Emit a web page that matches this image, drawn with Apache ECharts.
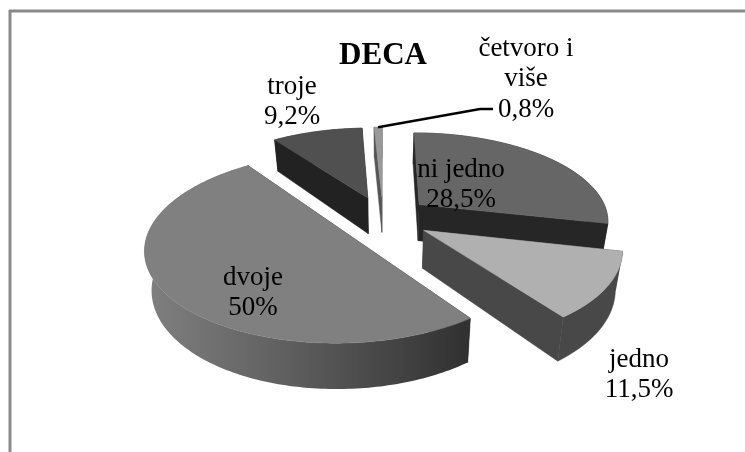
<!DOCTYPE html>
<html>
<head>
<meta charset="utf-8">
<style>html,body{margin:0;padding:0;background:#fff}#chart{width:745px;height:452px}</style>
<script src="https://cdn.jsdelivr.net/npm/echarts@6/dist/echarts.min.js"></script>
</head>
<body>
<div id="chart"></div>
<script>
var categories = ['ni jedno', 'jedno', 'dvoje', 'troje', 'četvoro i\nviše'];
var shares = [28.5, 11.5, 50, 9.2, 0.8];
var chartTitle = 'DECA';

// look of each slice, same order as categories
var topColors = ['#666666', '#b0b0b0', '#808080', '#505050', '#999999'];
var wallColors = ['#262626', '#484848', null, '#222222', '#555555'];
var drawOrder = [4, 3, 0, 2, 1]; // back to front, painted with z2
var labelSpots = [[461, 185], [639, 375], [253, 293], [292, 102], [526, 79]];

// tilted view of the pie
var view = {cx: 383, cy: 218, r: 190, tilt: 0.463, persp: 0.169, depth: 37, squeeze: 0.97, explode: 0.25};

function project(u, v, low) {
    var s = 1 / (1 - view.persp * v);
    return [
        view.cx + view.r * u * s * (low ? view.squeeze : 1),
        view.cy + view.r * view.tilt * v * s + (low ? view.depth * s : 0)
    ];
}

function rimPoint(origin, deg, low) {
    var a = deg * Math.PI / 180;
    return project(origin[0] + Math.sin(a), origin[1] - Math.cos(a), low);
}

function renderSlice(params, api) {
    var i = params.dataIndex;
    var total = shares.reduce(function (a, b) { return a + b; }, 0);
    var before = 0;
    for (var n = 0; n < i; n++) { before += shares[n]; }
    var start = before / total * 360;
    var end = (before + api.value(0)) / total * 360;
    var mid = (start + end) / 2 * Math.PI / 180;
    var origin = [view.explode * Math.sin(mid), -view.explode * Math.cos(mid)];

    var topEdge = [], lowEdge = [];
    for (var d = start; d < end; d += 1) {
        topEdge.push(rimPoint(origin, d, false));
        lowEdge.push(rimPoint(origin, d, true));
    }
    topEdge.push(rimPoint(origin, end, false));
    lowEdge.push(rimPoint(origin, end, true));

    var apexTop = project(origin[0], origin[1], false);
    var apexLow = project(origin[0], origin[1], true);
    var last = topEdge.length - 1;
    var order = drawOrder.indexOf(i) * 10;

    var wallFill = wallColors[i] || new echarts.graphic.LinearGradient(0, 0, 1, 0, [
        {offset: 0, color: '#808080'},
        {offset: 0.5, color: '#5a5a5a'},
        {offset: 1, color: '#303030'}
    ]);
    var cutFill = wallColors[i] || '#303030';

    function poly(points, fill, z2) {
        return {
            type: 'polygon',
            z2: z2,
            shape: {points: points},
            style: {fill: fill, stroke: fill === wallFill && !wallColors[i] ? null : fill, lineWidth: 0.5}
        };
    }

    var children = [
        poly([apexTop, topEdge[0], lowEdge[0], apexLow], cutFill, order),
        poly([apexTop, topEdge[last], lowEdge[last], apexLow], cutFill, order + 1),
        poly(topEdge.concat(lowEdge.slice().reverse()), wallFill, order + 2),
        poly([apexTop].concat(topEdge), topColors[i], order + 3)
    ];

    // 28,5 style label under the category name
    children.push({
        type: 'text',
        z2: 100,
        style: {
            text: categories[i] + '\n' + String(shares[i]).replace('.', ',') + '%',
            x: labelSpots[i][0],
            y: labelSpots[i][1],
            fill: '#000',
            font: '27px "Liberation Serif"',
            lineHeight: 30.5,
            align: 'center',
            verticalAlign: 'middle'
        }
    });

    // only the smallest slice has a leader line
    if (api.value(0) < 1) {
        children.push({
            type: 'polyline',
            z2: 99,
            shape: {points: [rimPoint(origin, (start + end) / 2, false), [480, 109], [493, 109]]},
            style: {stroke: '#000', lineWidth: 2.5, fill: null}
        });
    }

    return {type: 'group', children: children};
}

var chart = echarts.init(document.getElementById('chart'), null, {renderer: 'canvas'});

var option = {
    animation: false,
    backgroundColor: '#fff',
    title: {
        text: chartTitle,
        left: 378,
        top: 35,
        textAlign: 'center',
        textStyle: {fontFamily: 'Liberation Serif', fontSize: 31, fontWeight: 'bold', color: '#000'}
    },
    graphic: [
        {type: 'line', shape: {x1: 9, y1: 11, x2: 745, y2: 11}, style: {stroke: '#8a8a8a', lineWidth: 3}},
        {type: 'line', shape: {x1: 10, y1: 10, x2: 10, y2: 452}, style: {stroke: '#8a8a8a', lineWidth: 3}}
    ],
    series: [{
        type: 'custom',
        coordinateSystem: 'none',
        silent: true,
        data: shares.map(function (v) { return [v]; }),
        renderItem: renderSlice
    }]
};
chart.setOption(option);
</script>
</body>
</html>
